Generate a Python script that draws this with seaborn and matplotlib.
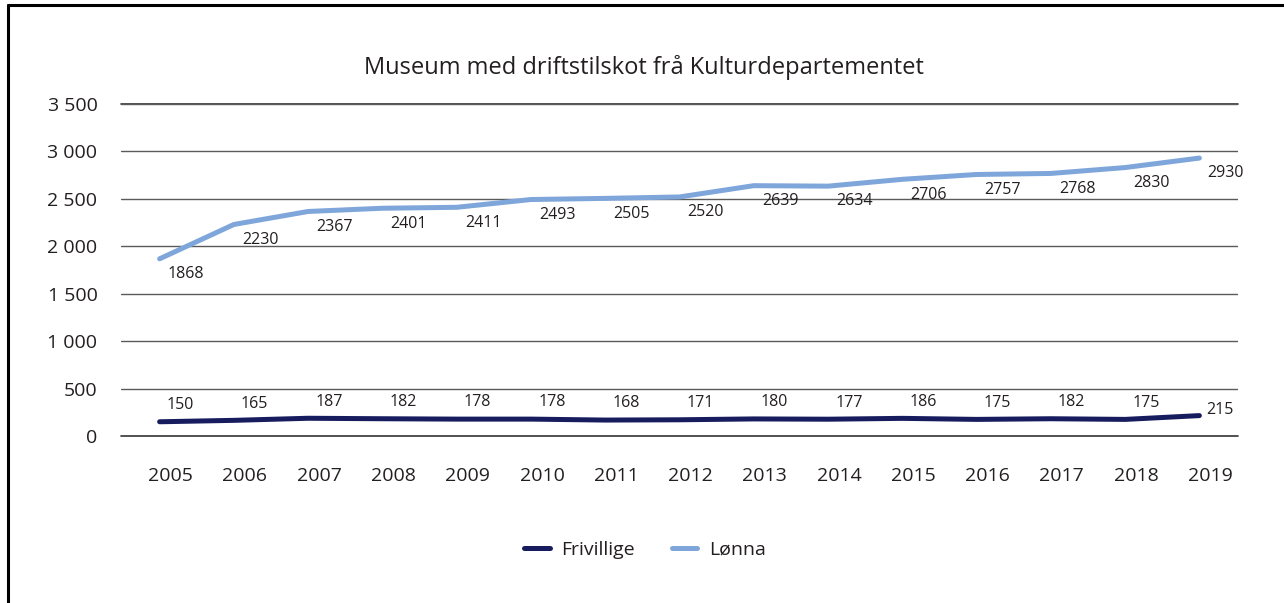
"""Museum med driftstilskot frå Kulturdepartementet - line chart."""

import matplotlib

matplotlib.use("Agg")
import matplotlib.pyplot as plt
import matplotlib.transforms as mtransforms
from matplotlib.lines import Line2D
import pandas as pd
import seaborn as sns

YEARS = list(range(2005, 2020))
FRIVILLIGE = [150, 165, 187, 182, 178, 178, 168, 171, 180, 177, 186, 175, 182, 175, 215]
LONNA = [1868, 2230, 2367, 2401, 2411, 2493, 2505, 2520, 2639, 2634, 2706, 2757, 2768, 2830, 2930]
SERIES = ["Frivillige", "Lønna"]
Y_TICKS = [0, 500, 1000, 1500, 2000, 2500, 3000, 3500]
TITLE = "Museum med driftstilskot frå Kulturdepartementet"

COLORS = {"Frivillige": "#171c5e", "Lønna": "#7fa6da"}


def fmt_thousands(v):
    return f"{v:,}".replace(",", " ")


def main():
    sns.set_theme(style="white")
    plt.rcParams["font.family"] = ["Open Sans", "DejaVu Sans"]

    df = pd.DataFrame({
        "year": YEARS * 2,
        "value": FRIVILLIGE + LONNA,
        "series": ["Frivillige"] * len(YEARS) + ["Lønna"] * len(YEARS),
    })

    fig = plt.figure(figsize=(12.84, 6.03), dpi=100)
    ax = fig.add_axes([121 / 1284, 1 - 436 / 603, (1238 - 121) / 1284, (436 - 104) / 603])

    sns.lineplot(data=df, x="year", y="value", hue="series", hue_order=SERIES,
                 palette=COLORS, linewidth=3.6, ax=ax, legend=False,
                 solid_capstyle="round")

    ax.set_xlim(YEARS[0] - 0.52, YEARS[-1] + 0.52)
    ax.set_ylim(0, 3500)
    ax.set_yticks(Y_TICKS)
    ax.set_yticklabels([fmt_thousands(t) for t in Y_TICKS])
    ax.set_xticks(YEARS)
    ax.set_xticklabels([str(y) for y in YEARS])
    ax.tick_params(axis="y", length=0, pad=17, labelsize=14, colors="#231f20")
    ax.tick_params(axis="x", length=0, pad=22, labelsize=14, colors="#231f20")
    shift = mtransforms.ScaledTranslation(0.11, 0, fig.dpi_scale_trans)
    for lab in ax.get_xticklabels():
        lab.set_transform(lab.get_transform() + shift)

    ax.grid(axis="y", color="#5a5a5a", linewidth=1.0)
    ax.grid(axis="x", visible=False)
    ax.axhline(0, color="#333333", linewidth=1.2, zorder=0.5, clip_on=False)
    ax.axhline(3500, color="#333333", linewidth=1.2, zorder=0.5, clip_on=False)
    ax.set_axisbelow(True)
    for sp in ax.spines.values():
        sp.set_visible(False)
    ax.set_xlabel("")
    ax.set_ylabel("")

    # data labels
    n = len(YEARS)
    for yr, v in zip(YEARS, LONNA):
        ax.annotate(str(v), (yr, v), xytext=(19, -11), textcoords="offset points",
                    ha="center", va="center", fontsize=11.5, color="#231f20")
    for i, (yr, v) in enumerate(zip(YEARS, FRIVILLIGE)):
        dy = 4 if i == n - 1 else 12
        ax.annotate(str(v), (yr, v), xytext=(15, dy), textcoords="offset points",
                    ha="center", va="center", fontsize=11.5, color="#231f20")

    fig.text(644 / 1284, 1 - 68 / 603, TITLE, ha="center", va="center",
             fontsize=17, color="#231f20")

    handles = [Line2D([0], [0], color=COLORS[s], linewidth=3.6, solid_capstyle="round")
               for s in SERIES]
    fig.legend(handles, SERIES, loc="center", bbox_to_anchor=(645 / 1284, 1 - 550 / 603),
               ncol=2, frameon=False, fontsize=14, handlelength=1.3, handletextpad=0.6,
               columnspacing=1.9, labelcolor="#231f20")

    # outer frame (top and left edges visible)
    fig.add_artist(Line2D([8 / 1284, 8 / 1284], [0, 1 - 5 / 603], color="black",
                          linewidth=2.2, transform=fig.transFigure))
    fig.add_artist(Line2D([8 / 1284, 1], [1 - 5 / 603, 1 - 5 / 603], color="black",
                          linewidth=2.2, transform=fig.transFigure))

    fig.savefig("out.png", dpi=100)
    plt.close(fig)


if __name__ == "__main__":
    main()
